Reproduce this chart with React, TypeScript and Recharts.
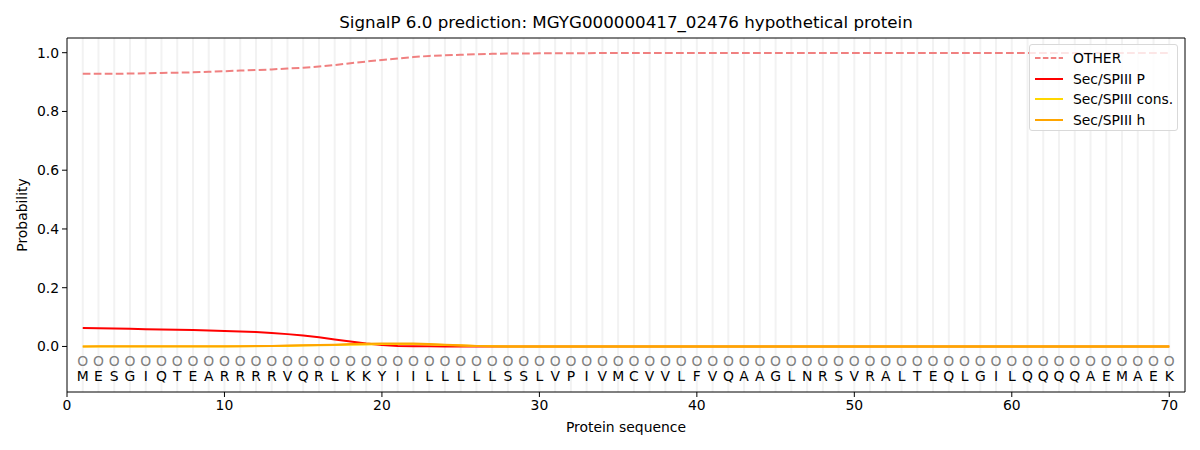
import React from 'react';
import { XAxis, YAxis, ReferenceLine, Scatter, ComposedChart, Line } from 'recharts';

const sequence = ['M','E','S','G','I','Q','T','E','A','R','R','R','R','V','Q','R','L','K','K','Y','I','I','L','L','L','L','L','S','S','L','V','P','I','V','M','C','V','V','L','F','V','Q','A','A','G','L','N','R','S','V','R','A','L','T','E','Q','L','G','I','L','Q','Q','Q','Q','A','E','M','A','E','K'];

const otherValues = [0.928,0.928,0.928,0.929,0.930,0.931,0.932,0.933,0.935,0.937,0.939,0.941,0.943,0.946,0.949,0.953,0.958,0.964,0.970,0.975,0.980,0.985,0.989,0.991,0.993,0.995,0.996,0.997,0.997,0.998,0.998,0.998,0.998,0.999,0.999,0.999,0.999,0.999,0.999,0.999,0.999,0.999,0.999,0.999,0.999,0.999,0.999,0.999,0.999,0.999,0.999,0.999,0.999,0.999,0.999,0.999,0.999,0.999,0.999,0.999,0.999,0.999,0.999,0.999,0.999,0.999,0.999,0.999,0.999,0.999];
const pValues = [0.063,0.062,0.061,0.060,0.059,0.058,0.057,0.056,0.054,0.053,0.051,0.049,0.046,0.042,0.037,0.031,0.024,0.017,0.010,0.005,0.002,0.001,0.0005,0,0,0,0,0,0,0,0,0,0,0,0,0,0,0,0,0,0,0,0,0,0,0,0,0,0,0,0,0,0,0,0,0,0,0,0,0,0,0,0,0,0,0,0,0,0,0];
const consValues = [0,0,0,0,0,0,0,0,0,0,0.001,0.001,0.002,0.002,0.003,0.004,0.005,0.006,0.007,0.008,0.008,0.008,0.007,0.005,0.003,0.002,0.001,0,0,0,0,0,0,0,0,0,0,0,0,0,0,0,0,0,0,0,0,0,0,0,0,0,0,0,0,0,0,0,0,0,0,0,0,0,0,0,0,0,0,0];
const hValues = [0,0.001,0.001,0.001,0.001,0.001,0.001,0.001,0.001,0.001,0.001,0.002,0.002,0.003,0.004,0.005,0.006,0.008,0.009,0.010,0.010,0.010,0.008,0.006,0.004,0.002,0.001,0,0,0,0,0,0,0,0,0,0,0,0,0,0,0,0,0,0,0,0,0,0,0,0,0,0,0,0,0,0,0,0,0,0,0,0,0,0,0,0,0,0,0];
const labelRow = sequence.map(() => 'O');

const xTicks = [0, 10, 20, 30, 40, 50, 60, 70];
const yTicks = [0, 0.2, 0.4, 0.6, 0.8, 1.0];
const xDomain = [0, 71];
const yDomain = [-0.155, 1.05];

const seriesInfo = [
  { key: 'other', name: 'OTHER', color: '#f08080', dash: '7.7 3.3' },
  { key: 'p', name: 'Sec/SPIII P', color: '#ff0000', dash: undefined },
  { key: 'cons', name: 'Sec/SPIII cons.', color: '#ffd700', dash: undefined },
  { key: 'h', name: 'Sec/SPIII h', color: '#ffa500', dash: undefined },
];

const data = sequence.map((aa, i) => ({
  pos: i + 1,
  other: otherValues[i],
  p: pValues[i],
  cons: consValues[i],
  h: hValues[i],
}));
const letterData = sequence.map((aa, i) => ({ pos: i + 1, y: -0.1, letter: aa }));
const oData = labelRow.map((o, i) => ({ pos: i + 1, y: -0.05, letter: o }));

const FONT = '"DejaVu Sans", sans-serif';

const LetterShape = (props: any) => (
  <text x={props.cx} y={props.cy} textAnchor="middle" dominantBaseline="central" fontSize={13.9} fontFamily={FONT} fill="#000">
    {props.payload.letter}
  </text>
);
const OShape = (props: any) => (
  <text x={props.cx} y={props.cy} textAnchor="middle" dominantBaseline="central" fontSize={13.9} fontFamily={FONT} fill="#808080">
    {props.payload.letter}
  </text>
);

export default function App() {
  return (
    <div style={{ position: 'absolute', left: 0, top: 0, width: 1200, height: 450, background: '#fff', fontFamily: FONT }}>
      <ComposedChart width={1200} height={450} data={data} margin={{ top: 38, right: 15, bottom: 0, left: 0 }}>
        {sequence.map((aa, i) => (
          <ReferenceLine key={'g' + i} x={i + 1} stroke="#f2f2f2" strokeWidth={2} ifOverflow="visible" />
        ))}
        <XAxis dataKey="pos" type="number" domain={xDomain} ticks={xTicks} allowDataOverflow
          tickSize={5} tickMargin={3} height={58} stroke="#000"
          tick={{ fontSize: 13.9, fill: '#000', fontFamily: FONT }} tickLine={{ stroke: '#000' }} />
        <YAxis type="number" domain={yDomain} ticks={yTicks} allowDataOverflow width={67}
          tickSize={5} tickMargin={3} stroke="#000" tickFormatter={(v: number) => v.toFixed(1)}
          tick={{ fontSize: 13.9, fill: '#000', fontFamily: FONT }} tickLine={{ stroke: '#000' }} />
        <ReferenceLine y={yDomain[1]} stroke="#000" strokeWidth={1} ifOverflow="visible" />
        <ReferenceLine x={xDomain[1]} stroke="#000" strokeWidth={1} ifOverflow="visible" />
        {seriesInfo.map((s) => (
          <Line key={s.key} dataKey={s.key} name={s.name} type="linear" stroke={s.color} strokeWidth={2}
            strokeDasharray={s.dash} dot={false} activeDot={false} isAnimationActive={false} />
        ))}
        <Scatter data={oData} dataKey="y" shape={OShape} isAnimationActive={false} />
        <Scatter data={letterData} dataKey="y" shape={LetterShape} isAnimationActive={false} />
      </ComposedChart>
      <div style={{ position: 'absolute', left: 67, width: 1118, top: 12, textAlign: 'center', fontSize: 16.7, color: '#000', lineHeight: '20px' }}>
        SignalP 6.0 prediction: MGYG000000417_02476 hypothetical protein
      </div>
      <div style={{ position: 'absolute', left: 67, width: 1118, top: 419, textAlign: 'center', fontSize: 13.9, color: '#000', lineHeight: '17px' }}>
        Protein sequence
      </div>
      <div style={{ position: 'absolute', left: 22, top: 215, width: 0, height: 0 }}>
        <div style={{ position: 'absolute', transform: 'translate(-50%, -50%) rotate(-90deg)', fontSize: 13.9, whiteSpace: 'nowrap', color: '#000', lineHeight: '17px' }}>
          Probability
        </div>
      </div>
      <div style={{ position: 'absolute', left: 1029, top: 44, width: 147, height: 85, border: '1px solid #d9d9d9', borderRadius: 3, background: 'rgba(255,255,255,0.8)' }}>
        {seriesInfo.map((s, i) => (
          <div key={s.key} style={{ position: 'absolute', left: 0, top: 4 + i * 20.7, height: 18, width: 147 }}>
            <svg width={40} height={18} style={{ position: 'absolute', left: 4, top: 0 }}>
              <line x1={1} y1={9} x2={29} y2={9} stroke={s.color} strokeWidth={2} strokeDasharray={s.dash ? '5.5 2.4' : undefined} />
            </svg>
            <div style={{ position: 'absolute', left: 43, top: 0, fontSize: 13.9, lineHeight: '18px', whiteSpace: 'nowrap', color: '#000' }}>{s.name}</div>
          </div>
        ))}
      </div>
    </div>
  );
}
